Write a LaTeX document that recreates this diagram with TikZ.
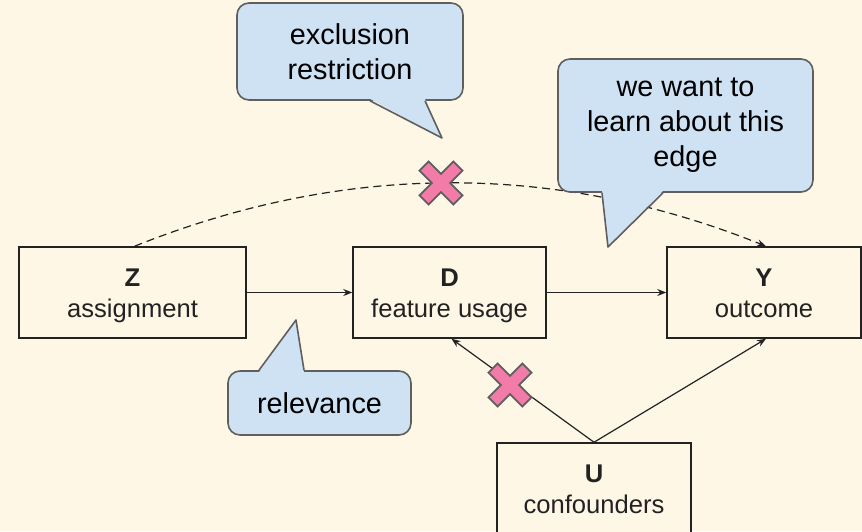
\documentclass[tikz,border=0pt]{standalone}
\usepackage{fontspec}
\setmainfont{Liberation Sans}
\usetikzlibrary{calc,arrows.meta}

\definecolor{paper}{HTML}{FEF7E6}
\definecolor{bubblefill}{HTML}{CFE2F3}
\definecolor{bubbleline}{HTML}{5F5F5F}
\definecolor{crosspink}{HTML}{F27BA7}
\definecolor{inkline}{HTML}{222222}

\newcommand{\capgap}{\rule{0pt}{13.8pt}}

\tikzset{
  cutmark/.pic={
    \filldraw[fill=crosspink, draw=bubbleline, line width=.9pt, rotate=45]
      (-6.5,24) -- (6.5,24) -- (6.5,6.5) -- (24,6.5) -- (24,-6.5) -- (6.5,-6.5)
      -- (6.5,-24) -- (-6.5,-24) -- (-6.5,-6.5) -- (-24,-6.5) -- (-24,6.5)
      -- (-6.5,6.5) -- cycle;
  }
}

\begin{document}
\begin{tikzpicture}[x=0.5pt, y=-0.5pt,
    varbox/.style={draw=inkline, line width=.75pt, fill=paper, text=inkline,
      minimum height=45.5pt, align=center, font=\fontsize{12.8}{15.5}\selectfont},
    bubble/.style={draw=bubbleline, line width=.8pt, fill=bubblefill,
      rounded corners=6pt, align=center, text=black,
      font=\fontsize{14.4}{17.5}\selectfont},
    link/.style={draw=inkline, line width=.6pt, -{Stealth[length=4.5pt,width=3.5pt]}}]
  % Background
  \fill[paper] (0,0) rectangle (862,531);
  \useasboundingbox (0,0) rectangle (862,531);

  % Draw the variables
  \node[varbox, minimum width=113.5pt] (Z) at (132.5,292.5) {\capgap\textbf{Z}\\assignment\strut};
  \node[varbox, minimum width=96.5pt] (D) at (449.5,292.5) {\capgap\textbf{D}\\feature usage\strut};
  \node[varbox, minimum width=97pt] (Y) at (764,292.5) {\capgap\textbf{Y}\\outcome\strut};
  \node[varbox, minimum width=97pt] (U) at (594,488.5) {\capgap\textbf{U}\\confounders\strut};

  % Draw the edges
  \draw[link] (Z) -- (D);
  \draw[link] (D) -- (Y);
  \draw[link] (U.north) -- ($(D.south)+(2,0)$);
  \draw[link] (U.north) -- ($(Y.south)+(2,0)$);
  \draw[link, dashed, dash pattern=on 4pt off 2.5pt]
    ($(Z.north)+(2,0)$) .. controls (345,162) and (556,162) .. ($(Y.north)+(2,0)$);

  % Draw the callouts
  \node[bubble, minimum width=113pt, minimum height=48.5pt] (excl) at (350,51.5)
    {exclusion\\restriction};
  \coordinate (excltip) at (442,138);
  \fill[bubblefill] ($(excl.south)+(20,-2)$) -- (excltip) -- ($(excl.south)+(75,-2)$) -- cycle;
  \draw[bubbleline, line width=.8pt, line join=round]
    ($(excl.south)+(20,0)$) -- (excltip) -- ($(excl.south)+(75,0)$);

  \node[bubble, minimum width=127.5pt, minimum height=66.5pt] (want) at (685.5,125.5)
    {we want to\\learn about this\\edge};
  \coordinate (wanttip) at (608,247);
  \fill[bubblefill] ($(want.south)+(-83.5,-2)$) -- (wanttip) -- ($(want.south)+(-22.5,-2)$) -- cycle;
  \draw[bubbleline, line width=.8pt, line join=round]
    ($(want.south)+(-83.5,0)$) -- (wanttip) -- ($(want.south)+(-22.5,0)$);

  \node[bubble, minimum width=91.5pt, minimum height=32pt] (relev) at (319.5,403) {relevance};
  \coordinate (relevtip) at (296,320);
  \fill[bubblefill] ($(relev.north)+(-60.5,2)$) -- (relevtip) -- ($(relev.north)+(-15.5,2)$) -- cycle;
  \draw[bubbleline, line width=.8pt, line join=round]
    ($(relev.north)+(-60.5,0)$) -- (relevtip) -- ($(relev.north)+(-15.5,0)$);

  % Crossed-out edges
  \foreach \p in {(441,183),(510,385)}
    \pic at \p {cutmark};
\end{tikzpicture}
\end{document}
